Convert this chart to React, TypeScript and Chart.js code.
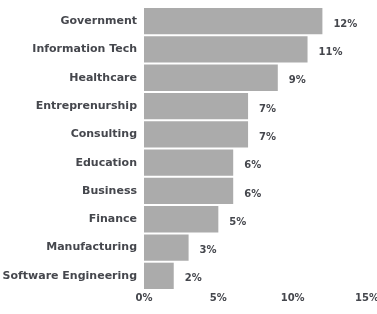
import React, { useEffect, useRef } from "react";
import { Chart, registerables } from "chart.js";

Chart.register(...registerables);

const categories = [
  "Government",
  "Information Tech",
  "Healthcare",
  "Entreprenurship",
  "Consulting",
  "Education",
  "Business",
  "Finance",
  "Manufacturing",
  "Software Engineering",
];
const shares = [12, 11, 9, 7, 7, 6, 6, 5, 3, 2];
const xTicks = [0, 5, 10, 15];

const FONT = "'DejaVu Sans', sans-serif";
const TEXT = "#45474d";

const valueLabels = {
  id: "valueLabels",
  afterDatasetsDraw(chart: any) {
    const ctx = chart.ctx;
    const meta = chart.getDatasetMeta(0);
    ctx.save();
    ctx.font = `bold 10px ${FONT}`;
    ctx.fillStyle = TEXT;
    ctx.textAlign = "left";
    ctx.textBaseline = "middle";
    meta.data.forEach((bar: any, i: number) => {
      const v = chart.data.datasets[0].data[i];
      ctx.fillText(`${Math.round(v)}%`, bar.x + 11, bar.y + 3);
    });
    ctx.restore();
  },
};

export default function App() {
  const ref = useRef<HTMLCanvasElement>(null);
  useEffect(() => {
    const chart = new Chart(ref.current!, {
      type: "bar",
      data: {
        labels: categories,
        datasets: [
          {
            data: shares,
            backgroundColor: "#ababab",
            borderWidth: 0,
            barPercentage: 1,
            categoryPercentage: 0.93,
          },
        ],
      },
      options: {
        indexAxis: "y",
        animation: false,
        responsive: false,
        layout: { padding: { top: 7, left: 0, right: 10, bottom: 8 } },
        plugins: { legend: { display: false }, tooltip: { enabled: false } },
        scales: {
          x: {
            min: 0,
            max: 15,
            afterBuildTicks: (scale: any) => {
              scale.ticks = xTicks.map((v) => ({ value: v }));
            },
            afterFit: (scale: any) => {
              scale.paddingRight = 0;
              scale.paddingLeft = 0;
            },
            grid: { display: false, drawTicks: false },
            border: { display: false },
            ticks: {
              padding: 2,
              color: TEXT,
              font: { family: FONT, size: 10, weight: "bold" },
              callback: (v: any) => `${v}%`,
            },
          },
          y: {
            grid: { display: false, drawTicks: false },
            border: { display: false },
            afterFit: (scale: any) => {
              scale.width = 144;
              scale.paddingTop = 0;
              scale.paddingBottom = 0;
            },
            ticks: {
              padding: 7,
              color: TEXT,
              font: { family: FONT, size: 11, weight: "bold" },
            },
          },
        },
      },
      plugins: [valueLabels],
    });
    return () => chart.destroy();
  }, []);
  return (
    <div style={{ position: "fixed", left: 0, top: 0, width: 377, height: 314, background: "#fff" }}>
      <canvas ref={ref} width={377} height={314} style={{ width: 377, height: 314 }} />
    </div>
  );
}
